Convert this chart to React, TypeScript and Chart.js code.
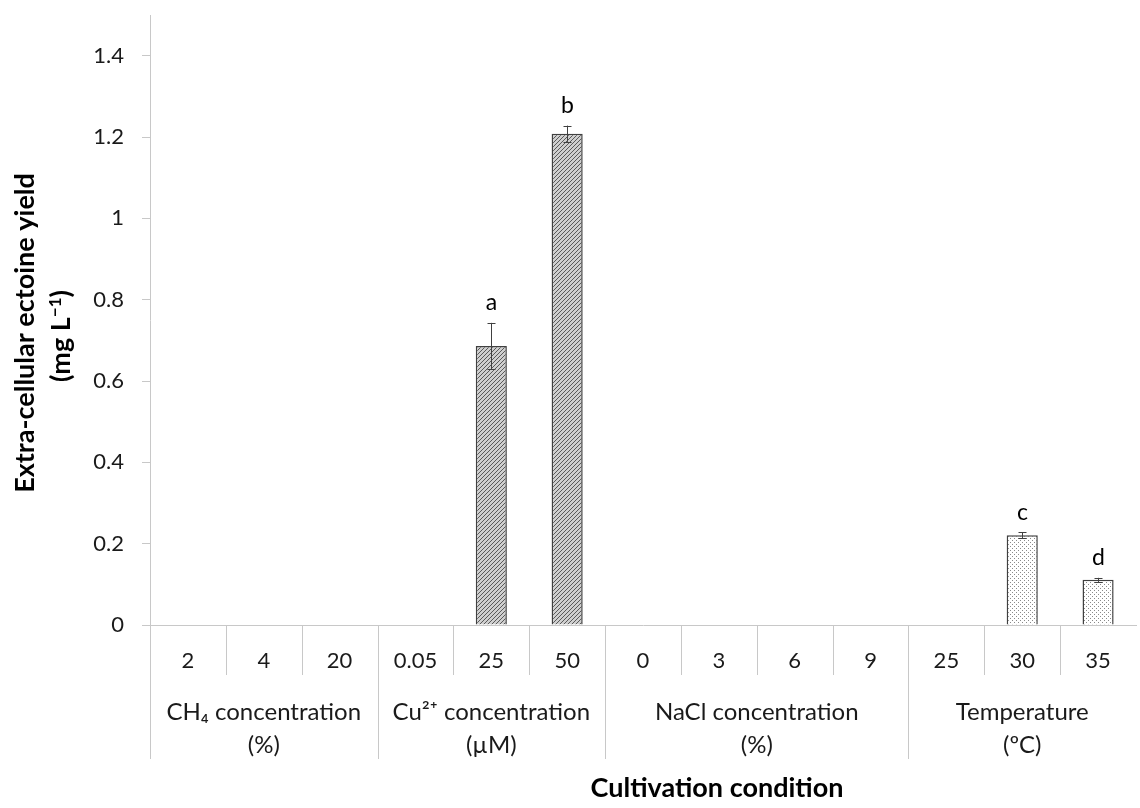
import React, { useEffect, useRef } from "react";
import { Chart, registerables } from "chart.js";

Chart.register(...registerables);

const categories = ["2", "4", "20", "0.05", "25", "50", "0", "3", "6", "9", "25", "30", "35"];
const groupLabels = [
  ["CH₄ concentration", "(%)"],
  ["Cu²⁺ concentration", "(µM)"],
  ["NaCl concentration", "(%)"],
  ["Temperature", "(ºC)"],
];
const groupSizes = [3, 3, 4, 3];
const groupPatterns = ["hatch", "hatch", "hatch", "dots"];
const values = [null, null, null, null, 0.686, 1.208, null, null, null, null, null, 0.221, 0.111];
const errors = [0, 0, 0, 0, 0.057, 0.02, 0, 0, 0, 0, 0, 0.007, 0.005];
const letters = ["", "", "", "", "a", "b", "", "", "", "", "", "c", "d"];
const yTicks = [0, 0.2, 0.4, 0.6, 0.8, 1, 1.2, 1.4];
const yTitle = "Extra-cellular ectoine yield";
const xTitle = "Cultivation condition";

const FONT = "Lato, 'Open Sans', sans-serif";

function makePattern(kind: string): CanvasPattern | string {
  const c = document.createElement("canvas");
  c.width = 4;
  c.height = 4;
  const g = c.getContext("2d")!;
  if (kind === "hatch") {
    g.fillStyle = "#cfcfcf";
    g.fillRect(0, 0, 4, 4);
    g.strokeStyle = "#5a5a5a";
    g.lineWidth = 1;
    g.beginPath();
    g.moveTo(0, 4);
    g.lineTo(4, 0);
    g.moveTo(-1, 1);
    g.lineTo(1, -1);
    g.moveTo(3, 5);
    g.lineTo(5, 3);
    g.stroke();
  } else {
    g.fillStyle = "#ffffff";
    g.fillRect(0, 0, 4, 4);
    g.fillStyle = "#8a8a8a";
    g.fillRect(0, 0, 1, 1);
    g.fillRect(2, 2, 1, 1);
  }
  const p = document.createElement("canvas").getContext("2d")!.createPattern(c, "repeat");
  return p || "#aaaaaa";
}

export default function App() {
  const ref = useRef<HTMLCanvasElement>(null);
  useEffect(() => {
    document.body.style.margin = "0";
    const canvas = ref.current!;
    const catGroup: number[] = [];
    groupSizes.forEach((s, gi) => {
      for (let k = 0; k < s; k++) catGroup.push(gi);
    });
    const patterns = groupPatterns.map((k) => makePattern(k));
    const bg = catGroup.map((gi) => patterns[gi]);

    const overlay = {
      id: "overlay",
      afterDraw(chart: any) {
        const ctx = chart.ctx as CanvasRenderingContext2D;
        const x = chart.scales.x;
        const y = chart.scales.y;
        const area = chart.chartArea;
        const base = y.getPixelForValue(0);
        ctx.save();
        // error bars and letters
        ctx.strokeStyle = "#404040";
        ctx.lineWidth = 1;
        values.forEach((v, i) => {
          if (v == null) return;
          const cx = Math.round(x.getPixelForValue(i)) + 0.5;
          const e = errors[i];
          const top = y.getPixelForValue(v + e);
          const bot = y.getPixelForValue(v - e);
          ctx.beginPath();
          ctx.moveTo(cx, top);
          ctx.lineTo(cx, bot);
          ctx.moveTo(cx - 4, Math.round(top) + 0.5);
          ctx.lineTo(cx + 4, Math.round(top) + 0.5);
          ctx.moveTo(cx - 4, Math.round(bot) + 0.5);
          ctx.lineTo(cx + 4, Math.round(bot) + 0.5);
          ctx.stroke();
          if (letters[i]) {
            ctx.fillStyle = "#000";
            ctx.font = `23px ${FONT}`;
            ctx.textAlign = "center";
            ctx.textBaseline = "middle";
            ctx.fillText(letters[i], cx, top - 20);
          }
        });
        // dividers
        ctx.strokeStyle = "#c8c8c8";
        ctx.lineWidth = 1;
        const n = categories.length;
        const bounds: number[] = [];
        for (let i = 1; i < n; i++) {
          bounds.push((x.getPixelForValue(i - 1) + x.getPixelForValue(i)) / 2);
        }
        const groupStarts = new Set<number>();
        let acc = 0;
        groupSizes.forEach((s) => {
          groupStarts.add(acc);
          acc += s;
        });
        ctx.beginPath();
        const lx = Math.round(area.left) + 0.5;
        ctx.moveTo(lx, base);
        ctx.lineTo(lx, base + 134);
        bounds.forEach((bx, k) => {
          const i = k + 1;
          const px = Math.round(bx) + 0.5;
          ctx.moveTo(px, base);
          ctx.lineTo(px, base + (groupStarts.has(i) ? 134 : 50));
        });
        ctx.stroke();
        // category labels
        ctx.fillStyle = "#1a1a1a";
        ctx.font = `22px ${FONT}`;
        ctx.textAlign = "center";
        ctx.textBaseline = "middle";
        categories.forEach((c, i) => {
          ctx.fillText(c, x.getPixelForValue(i), base + 36);
        });
        // group labels
        ctx.font = `24px ${FONT}`;
        let start = 0;
        groupSizes.forEach((s, gi) => {
          const cx = (x.getPixelForValue(start) + x.getPixelForValue(start + s - 1)) / 2;
          groupLabels[gi].forEach((line, li) => {
            ctx.fillText(line, cx, base + 87 + li * 33);
          });
          start += s;
        });
        // x title
        ctx.fillStyle = "#000";
        ctx.font = `bold 27px ${FONT}`;
        ctx.textBaseline = "alphabetic";
        ctx.fillText(xTitle, 717, 797);
        // y title
        ctx.save();
        ctx.translate(34, 333);
        ctx.rotate(-Math.PI / 2);
        ctx.font = `bold 27px ${FONT}`;
        ctx.textAlign = "center";
        ctx.textBaseline = "alphabetic";
        ctx.fillText(yTitle, 0, 0);
        ctx.restore();
        ctx.save();
        ctx.translate(70, 336);
        ctx.rotate(-Math.PI / 2);
        ctx.textBaseline = "alphabetic";
        ctx.textAlign = "left";
        const p1 = "(mg L";
        const sup = "−1";
        const p3 = ")";
        ctx.font = `bold 27px ${FONT}`;
        const w1 = ctx.measureText(p1).width;
        const w3 = ctx.measureText(p3).width;
        ctx.font = `bold 17px ${FONT}`;
        const w2 = ctx.measureText(sup).width;
        const total = w1 + w2 + w3;
        let sx = -total / 2;
        ctx.font = `bold 27px ${FONT}`;
        ctx.fillText(p1, sx, 0);
        sx += w1;
        ctx.font = `bold 17px ${FONT}`;
        ctx.fillText(sup, sx, -9);
        sx += w2;
        ctx.font = `bold 27px ${FONT}`;
        ctx.fillText(p3, sx, 0);
        ctx.restore();
        ctx.restore();
      },
    };

    const chart = new Chart(canvas, {
      type: "bar",
      data: {
        labels: categories,
        datasets: [
          {
            data: values as any,
            backgroundColor: bg as any,
            borderColor: "#404040",
            borderWidth: 1.5,
            barPercentage: 0.41,
            categoryPercentage: 1,
          },
        ],
      },
      options: {
        animation: false,
        responsive: false,
        layout: { padding: { top: 15, right: 4, left: 0, bottom: 0 } },
        plugins: { legend: { display: false }, tooltip: { enabled: false } },
        scales: {
          x: {
            grid: { display: false },
            border: { display: true, color: "#c8c8c8", width: 1 },
            ticks: { display: false },
            afterFit: (s: any) => {
              s.height = 183;
              s.paddingLeft = 0;
              s.paddingRight = 0;
            },
          },
          y: {
            min: 0,
            max: 1.5,
            afterBuildTicks: (s: any) => {
              s.ticks = yTicks.map((v) => ({ value: v }));
            },
            ticks: {
              color: "#1a1a1a",
              font: { family: "Lato, 'Open Sans', sans-serif", size: 22 },
              padding: 18,
              callback: (v: any) => String(Math.round(Number(v) * 10) / 10),
            },
            grid: { display: true, drawOnChartArea: false, drawTicks: true, tickLength: 8, color: "#c8c8c8" },
            border: { display: true, color: "#c8c8c8", width: 1 },
            afterFit: (s: any) => {
              s.width = 150;
              s.paddingTop = 0;
              s.paddingBottom = 0;
            },
          },
        },
      },
      plugins: [overlay],
    });
    return () => chart.destroy();
  }, []);
  return <canvas ref={ref} width={1140} height={808} style={{ display: "block" }} />;
}
